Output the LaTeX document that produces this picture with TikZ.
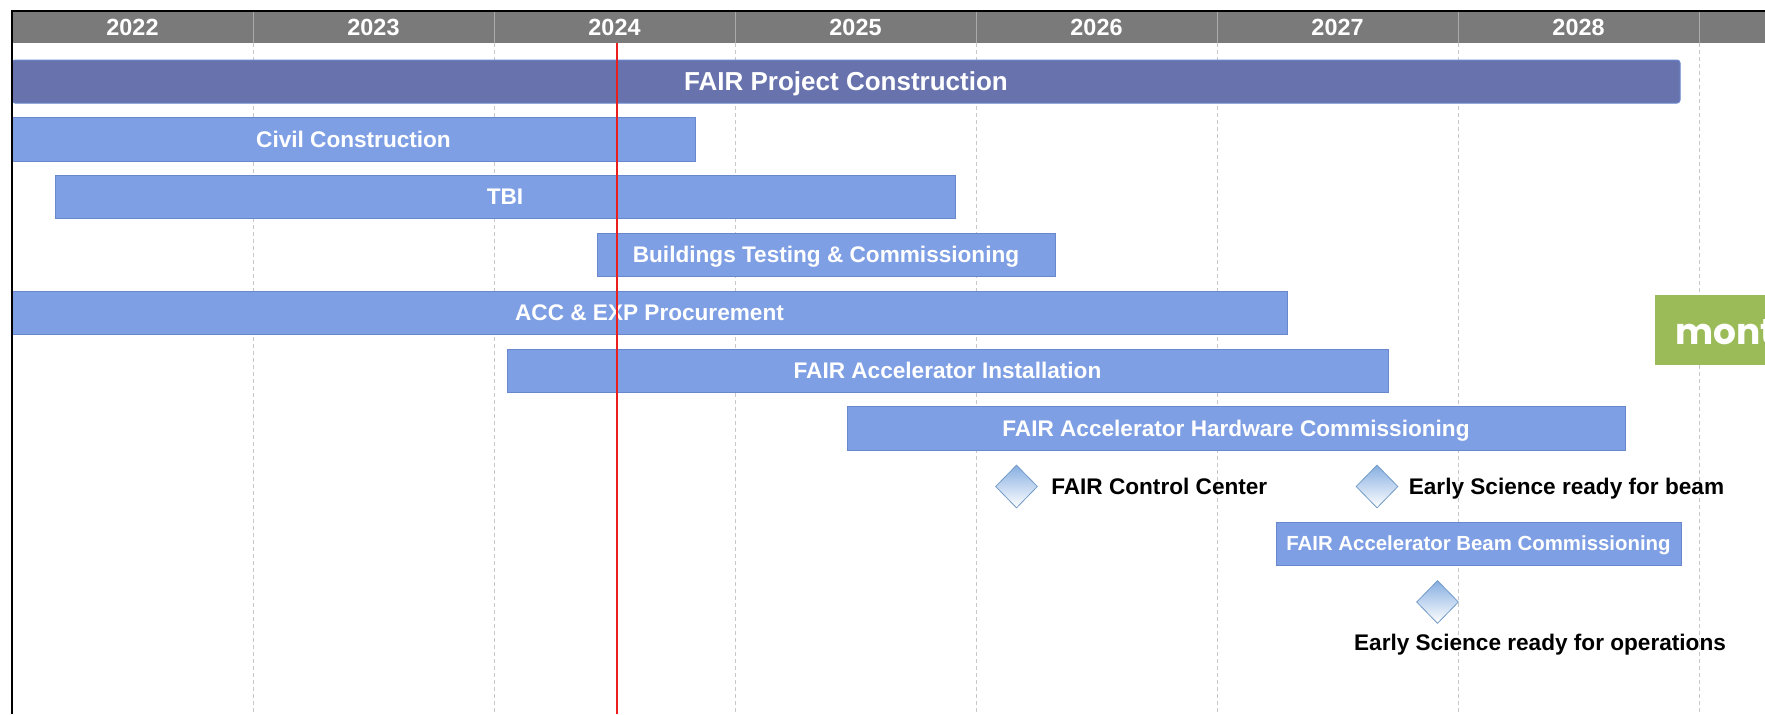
\documentclass[tikz,border=0pt]{standalone}
\usepackage{fontspec}
\setmainfont{Liberation Sans}
\newfontfamily\notefont{Poppins}
\usepackage{tikz}
\usetikzlibrary{positioning,shapes.geometric}
\definecolor{headergray}{RGB}{122,122,122}
\definecolor{headerline}{RGB}{170,170,170}
\definecolor{gridgray}{RGB}{200,200,200}
\definecolor{projblue}{RGB}{104,115,174}
\definecolor{barblue}{RGB}{127,159,228}
\definecolor{barline}{RGB}{105,135,205}
\definecolor{msblue}{RGB}{135,175,225}
\definecolor{msline}{RGB}{115,155,200}
\definecolor{notegreen}{RGB}{155,187,89}
\definecolor{todayred}{RGB}{235,30,30}

\begin{document}
\begin{tikzpicture}[x=0.5pt,y=-0.5pt,
    bar/.style={fill=barblue,draw=barline,line width=0.5pt},
    bartext/.style={text=white,inner sep=0pt,text height=8.1pt,text depth=0pt,
        font=\fontsize{11.3}{13}\selectfont\bfseries},
    yeartext/.style={text=white,inner sep=0pt,text height=8.4pt,text depth=0pt,
        font=\fontsize{11.7}{13}\selectfont\bfseries},
    milestone/.style={diamond,minimum width=21pt,minimum height=21.5pt,inner sep=0pt,
        top color=msblue,bottom color=white,draw=msline,line width=0.4pt},
    mslabel/.style={inner sep=0pt,text height=8.1pt,text depth=0pt,
        font=\fontsize{11.3}{13}\selectfont\bfseries}]
    \path[use as bounding box,clip] (0,0) rectangle (1765,714);
    \fill[white] (0,0) rectangle (1765,714);

    % Grid
    \foreach \x in {253,494,735,976,1217,1458,1699}
        \draw[gridgray,line width=0.5pt,dash pattern=on 2pt off 1.5pt] (\x,43) -- (\x,714);

    % Year header
    \fill[headergray] (12,11) rectangle (1765,43);
    \foreach \x in {253,494,735,976,1217,1458,1699}
        \draw[headerline,line width=0.5pt] (\x,11) -- (\x,43);
    \foreach \yr [count=\i from 0] in {2022,...,2028}
        \node[yeartext] (y\yr) at ({132.5+241*\i},27) {\yr};

    % Bars
    \draw[bar,fill=projblue,rounded corners=1.5pt] (12,60) rectangle (1680,103)
        node[midway,bartext,text height=9.3pt,font=\fontsize{13}{15}\selectfont\bfseries] (project) {FAIR Project Construction};
    \draw[bar] (12,117) rectangle (695,161)
        node[midway,bartext] (civil) {Civil Construction};
    \draw[bar] (55,175) rectangle (955,218)
        node[midway,bartext] (tbi) {TBI};
    \draw[bar] (597,233) rectangle (1055,276)
        node[midway,bartext] (buildings) {Buildings Testing \& Commissioning};
    \draw[bar] (12,291) rectangle (1287,334)
        node[midway,bartext] (procure) {ACC \& EXP Procurement};
    \draw[bar] (507,349) rectangle (1388,392)
        node[midway,bartext] (install) {FAIR Accelerator Installation};
    \draw[bar] (847,406) rectangle (1625,450)
        node[midway,bartext] (hwcomm) {FAIR Accelerator Hardware Commissioning};
    \draw[bar] (1276,522) rectangle (1681,565)
        node[midway,bartext,text height=7.3pt,font=\fontsize{10.2}{12}\selectfont\bfseries] (beamcomm) {FAIR Accelerator Beam Commissioning};

    % Milestones
    \node[milestone] (control) at (1016.5,486.5) {};
    \node[mslabel,right=6.5pt of control] (controllbl) {FAIR Control Center};
    \node[milestone] (beam) at (1377,486.5) {};
    \node[mslabel,right=5pt of beam] (beamlbl) {Early Science ready for beam};
    \node[milestone] (ops) at (1437.5,602) {};
    \node[mslabel] (opslbl) at (1540,642) {Early Science ready for operations};

    % Note box
    \fill[notegreen] (1655,295) rectangle (1765,365);
    \node[anchor=base west,inner sep=0pt,text=white,font=\notefont\bfseries\fontsize{18}{20}\selectfont] (note) at (1675,344) {mont};

    % Today line and frame
    \draw[todayred,line width=1pt] (617,43) -- (617,714);
    \draw[black,line width=1.2pt] (12,714) -- (12,11) -- (1765,11);
\end{tikzpicture}
\end{document}
